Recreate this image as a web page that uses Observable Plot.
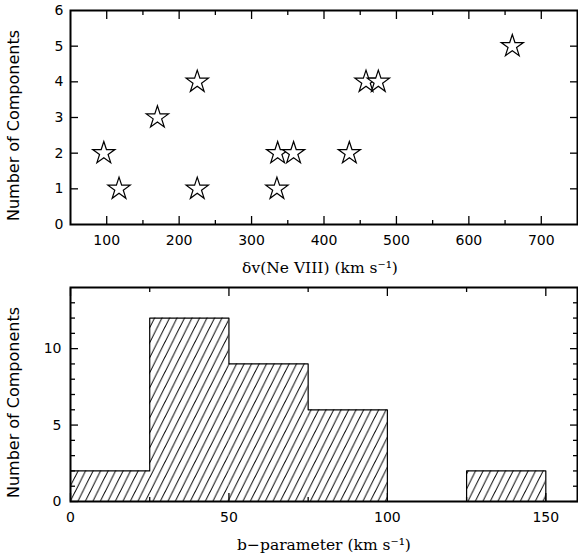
<!DOCTYPE html>
<html><head><meta charset="utf-8">
<script src="https://cdn.jsdelivr.net/npm/d3@7"></script>
<script src="https://cdn.jsdelivr.net/npm/@observablehq/plot@0.6"></script>
<style>
body{margin:0;background:#fff;color:#000}
#c{width:578px}
#c svg{display:block;background:#fff}
</style>
</head><body><div id="c"></div>
<script>
// ---- Top panel data: velocity spread vs number of components ----
const velocity = [96, 117, 170, 225, 225, 336, 358, 335, 435, 458, 475, 660];
const components = [2, 1, 3, 4, 1, 2, 2, 1, 2, 4, 4, 5];
const velTicks = [100, 200, 300, 400, 500, 600, 700];
const velMinorTicks = [150, 250, 350, 450, 550, 650];
const compTicks = [0, 1, 2, 3, 4, 5, 6];
const compTickMarks = [1, 2, 3, 4, 5];

// ---- Bottom panel data: b-parameter histogram ----
const binEdges = [0, 25, 50, 75, 100, 125, 150];
const binCounts = [2, 12, 9, 6, 0, 2];
const bTicks = [0, 50, 100, 150];
const bMinorTicks = [25, 75, 125];
const countTicks = [0, 5, 10];
const countMinorTicks = [1, 2, 3, 4, 6, 7, 8, 9, 11, 12, 13];

const topXLabel = "δv(Ne VIII) (km s⁻¹)";
const bottomXLabel = "b−parameter (km s⁻¹)";
const yLabel = "Number of Components";

const SANS = "DejaVu Sans";
const SERIF = "DejaVu Serif";
const MAJOR = 8, MINOR = 4;

function xTicksInward(ticks, size) {
  return [
    Plot.axisX(ticks, {anchor: "bottom", tickSize: size, dy: -size, fill: "none", label: null, strokeWidth: 1.3}),
    Plot.axisX(ticks, {anchor: "top", tickSize: size, dy: size, fill: "none", label: null, strokeWidth: 1.3})
  ];
}
function yTicksInward(ticks, size) {
  return [
    Plot.axisY(ticks, {anchor: "left", tickSize: size, dx: size, fill: "none", label: null, strokeWidth: 1.3}),
    Plot.axisY(ticks, {anchor: "right", tickSize: size, dx: -size, fill: "none", label: null, strokeWidth: 1.3})
  ];
}

const points = velocity.map((v, i) => ({v, n: components[i]}));

const topPanel = Plot.plot({
  width: 578, height: 282,
  marginTop: 10, marginBottom: 58, marginLeft: 70, marginRight: 1,
  x: {domain: [50, 750]},
  y: {domain: [0, 6]},
  marks: [
    ...xTicksInward(velTicks, MAJOR),
    ...xTicksInward(velMinorTicks, MINOR),
    ...yTicksInward(compTickMarks, MAJOR),
    Plot.axisX(velTicks, {anchor: "bottom", tickSize: 0, tickPadding: 11, label: null, fontFamily: SANS, fontSize: 14}),
    Plot.axisY(compTicks, {anchor: "left", tickSize: 0, tickPadding: 7, label: null, fontFamily: SANS, fontSize: 14}),
    Plot.dot(points, {x: "v", y: "n", symbol: "star", r: 7, fill: "white", stroke: "black", strokeWidth: 1.2}),
    Plot.frame({strokeWidth: 2}),
    Plot.text([topXLabel], {text: d => d, frameAnchor: "bottom", dx: -4, dy: 44, textAnchor: "middle", lineAnchor: "middle", fontFamily: SERIF, fontSize: 15.5}),
    Plot.text([yLabel], {text: d => d, frameAnchor: "left", dx: -57, dy: 8, rotate: -90, textAnchor: "middle", lineAnchor: "middle", fontFamily: SANS, fontSize: 16})
  ]
});

const bins = binCounts.map((c, i) => ({x1: binEdges[i], x2: binEdges[i + 1], count: c}));
const outline = binEdges.map((e, i) => ({x: e, y: i < binCounts.length ? binCounts[i] : 0}));

const bottomPanel = Plot.plot({
  width: 578, height: 272,
  marginTop: 5, marginBottom: 53, marginLeft: 70, marginRight: 1,
  x: {domain: [0, 160]},
  y: {domain: [0, 14]},
  marks: [
    Plot.rectY(bins, {x1: "x1", x2: "x2", y: "count", fill: "url(#hatch)"}),
    Plot.line(outline, {x: "x", y: "y", curve: "step-after", stroke: "black", strokeWidth: 1.2}),
    ...xTicksInward(bTicks, MAJOR),
    ...xTicksInward(bMinorTicks, MINOR),
    ...yTicksInward(countTicks, MAJOR),
    ...yTicksInward(countMinorTicks, 5),
    Plot.axisX(bTicks, {anchor: "bottom", tickSize: 0, tickPadding: 11, label: null, fontFamily: SANS, fontSize: 14}),
    Plot.axisY(countTicks, {anchor: "left", tickSize: 0, tickPadding: 9, label: null, fontFamily: SANS, fontSize: 14}),
    Plot.frame({strokeWidth: 2}),
    Plot.text([bottomXLabel], {text: d => d, frameAnchor: "bottom", dy: 44, textAnchor: "middle", lineAnchor: "middle", fontFamily: SERIF, fontSize: 15.5}),
    Plot.text([yLabel], {text: d => d, frameAnchor: "left", dx: -57, dy: 8, rotate: -90, textAnchor: "middle", lineAnchor: "middle", fontFamily: SANS, fontSize: 16})
  ]
});

d3.select(bottomPanel).insert("defs", ":first-child").html(
  '<pattern id="hatch" patternUnits="userSpaceOnUse" width="7.5" height="15">' +
  '<path d="M-3.75,22.5 L11.25,-7.5 M-11.25,22.5 L3.75,-7.5 M3.75,22.5 L18.75,-7.5" stroke="black" stroke-width="1" fill="none"/>' +
  '</pattern>'
);

const c = document.getElementById("c");
c.appendChild(topPanel);
c.appendChild(bottomPanel);
</script>
</body></html>
